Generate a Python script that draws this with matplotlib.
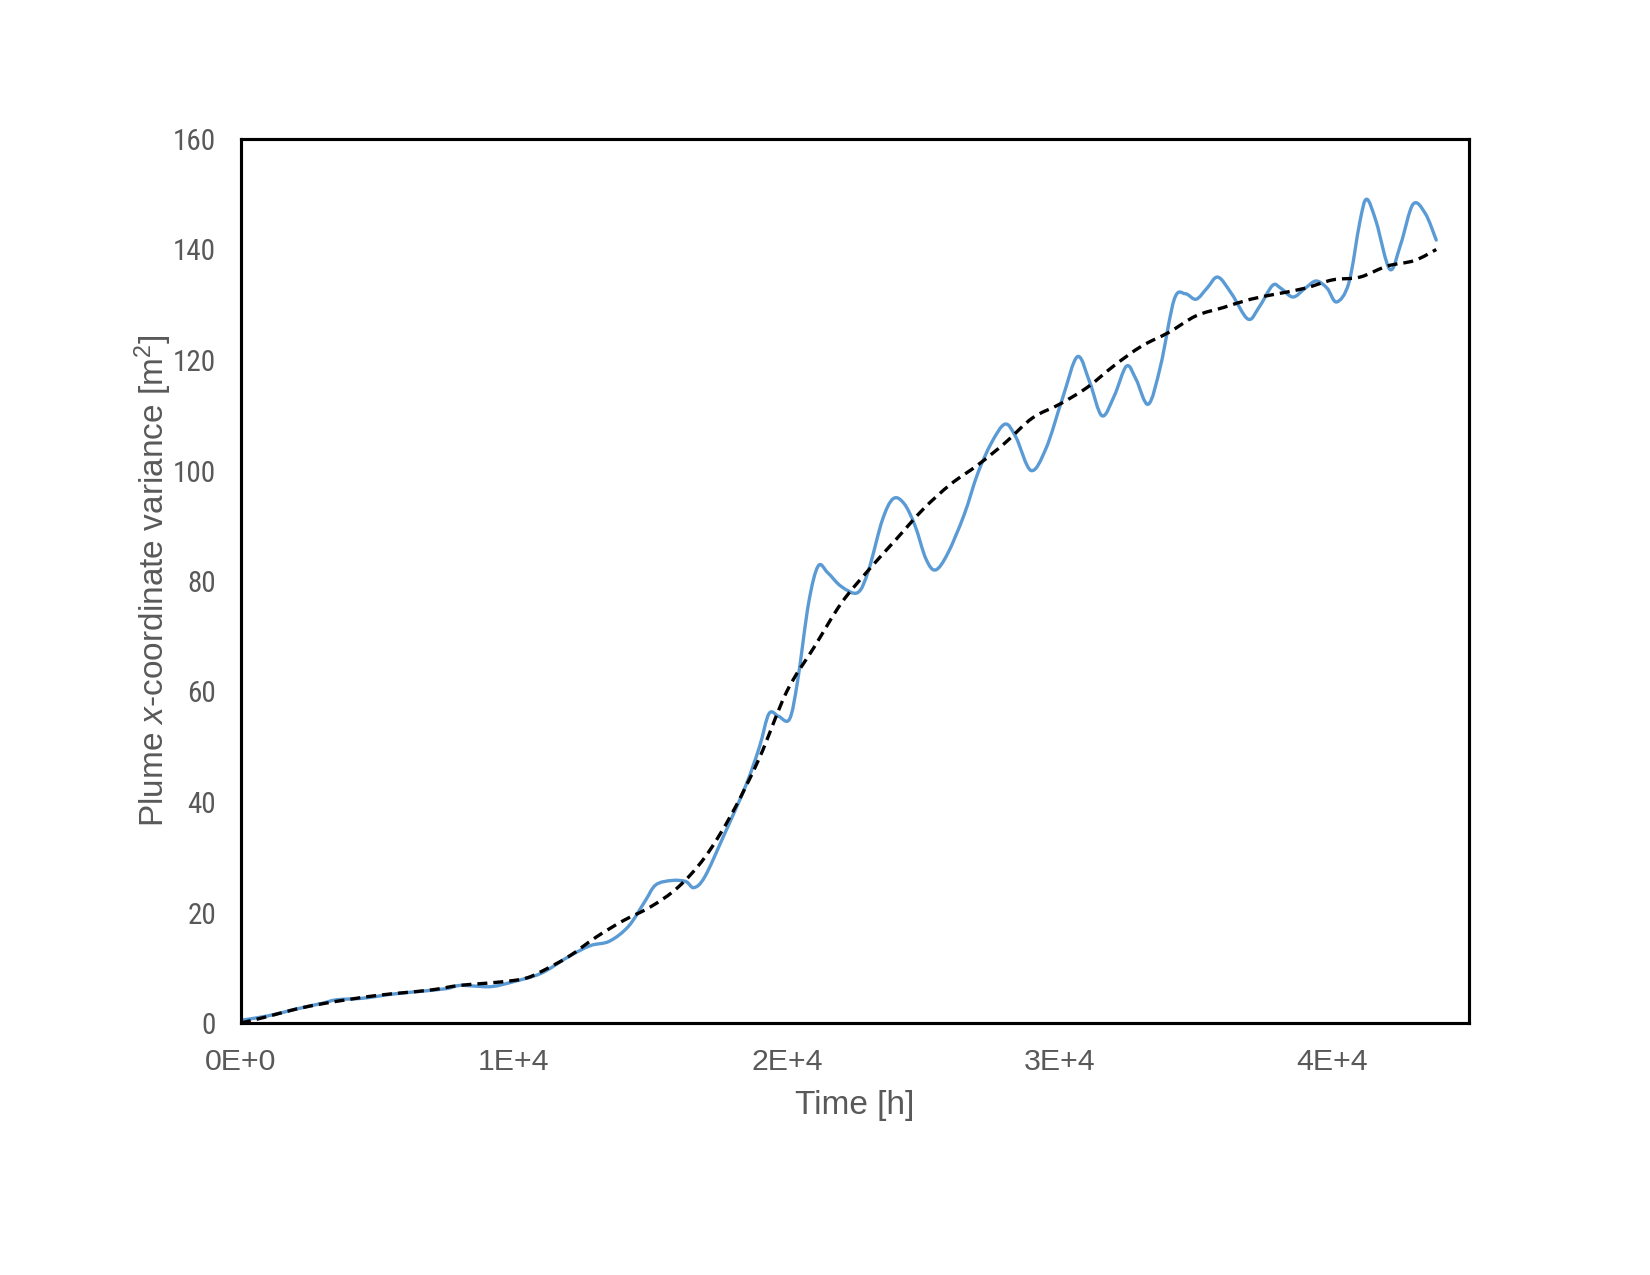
import matplotlib
matplotlib.use("Agg")
import matplotlib.pyplot as plt
from matplotlib import font_manager
from matplotlib.path import Path
from matplotlib.patches import PathPatch

plt.rcParams['font.family'] = ['Liberation Sans', 'DejaVu Sans']
plt.rcParams['mathtext.fontset'] = 'custom'
plt.rcParams['mathtext.rm'] = 'Liberation Sans'
plt.rcParams['mathtext.it'] = 'Liberation Sans:italic'

# Simulated plume variance (blue, smoothed line)
t_sim = [0, 1000, 2000, 3000, 3500, 4500, 5500, 6500, 7500, 8000, 8500, 9200, 10000,
         11000, 12000, 12800, 13500, 14200, 14800, 15200, 15800, 16300, 16600, 17000,
         17700, 18500, 19000, 19350, 19700, 20100, 20400, 20800, 21150, 21500, 22000,
         22600, 23000, 23500, 23900, 24300, 24700, 25100, 25450, 25900, 26500, 27000,
         27500, 28000, 28400, 28950, 29500, 30100, 30650, 31100, 31550, 32000, 32450,
         32800, 33250, 33700, 34200, 34600, 35000, 35400, 35800, 36300, 36900, 37300,
         37800, 38100, 38550, 39000, 39400, 39800, 40150, 40600, 41000, 41250, 41600,
         42100, 42500, 42950, 43400, 43800]
v_sim = [0.5, 1.3, 2.5, 3.6, 4.2, 4.5, 5.2, 5.7, 6.2, 6.8, 6.7, 6.6, 7.5,
         9.0, 12.0, 14.0, 14.8, 17.5, 22.0, 25.0, 25.8, 25.6, 24.5, 26.5,
         34.0, 43.0, 50.0, 56.0, 55.5, 55.0, 62.0, 76.0, 82.7, 81.5, 79.0,
         77.9, 82.0, 91.0, 94.9, 94.0, 90.0, 84.0, 82.0, 85.0, 92.0, 99.5,
         105.0, 108.4, 106.0, 100.0, 104.0, 113.0, 120.6, 116.0, 109.9, 113.5, 118.9,
         116.5, 112.0, 119.0, 131.0, 132.0, 131.0, 133.0, 135.0, 132.0, 127.4, 129.5,
         133.5, 133.0, 131.4, 133.0, 134.3, 133.0, 130.5, 134.0, 145.0, 149.1, 145.0,
         136.4, 141.0, 148.2, 146.5, 141.7]

# Fitted / model curve (black dashed)
t_fit = [0, 1000, 2000, 3000, 4000, 5000, 6000, 7000, 8000, 9000, 10000, 10500, 11000,
         12000, 13000, 14000, 15000, 16000, 17000, 18000, 19000, 20000, 21000, 22000,
         23000, 24000, 25000, 26000, 27000, 28000, 29000, 30000, 31000, 32000, 33000,
         34000, 35000, 36000, 37000, 38000, 39000, 40000, 41000, 42000, 43000, 43800]
v_fit = [0.0, 1.2, 2.5, 3.5, 4.3, 5.0, 5.5, 6.0, 6.8, 7.2, 7.7, 8.2, 9.3,
         12.0, 15.5, 18.5, 21.0, 24.5, 30.0, 38.0, 48.0, 60.0, 68.0, 76.0,
         82.0, 87.5, 93.0, 97.5, 101.0, 105.0, 109.5, 112.0, 115.0, 119.0, 122.5,
         125.0, 128.0, 129.5, 131.0, 132.0, 133.0, 134.5, 135.0, 137.0, 138.0, 140.0]

x_ticks = [0, 10000, 20000, 30000, 40000]
x_tick_labels = ['0E+0', '1E+4', '2E+4', '3E+4', '4E+4']
y_ticks = [0, 20, 40, 60, 80, 100, 120, 140, 160]


def smooth_path(xs, ys):
    """Spreadsheet-style smoothed line: cubic Bezier segments through the points."""
    n = len(xs)
    verts = [(xs[0], ys[0])]
    codes = [Path.MOVETO]
    for i in range(n - 1):
        x0, y0 = xs[max(i - 1, 0)], ys[max(i - 1, 0)]
        x1, y1 = xs[i], ys[i]
        x2, y2 = xs[i + 1], ys[i + 1]
        x3, y3 = xs[min(i + 2, n - 1)], ys[min(i + 2, n - 1)]
        c1 = (x1 + (x2 - x0) / 6.0, y1 + (y2 - y0) / 6.0)
        c2 = (x2 - (x3 - x1) / 6.0, y2 - (y3 - y1) / 6.0)
        verts += [c1, c2, (x2, y2)]
        codes += [Path.CURVE4] * 3
    return Path(verts, codes)


# pick a narrow sans font for the value axis if one is installed
names = {f.name for f in font_manager.fontManager.ttflist}
narrow = None
for cand in ['Liberation Sans Narrow', 'Roboto Condensed', 'Open Sans Condensed',
             'Arial Narrow', 'Nimbus Sans Narrow', 'DejaVu Sans Condensed']:
    if cand in names:
        narrow = cand
        break

fig = plt.figure(figsize=(11, 8.5), dpi=150)
ax = fig.add_axes([241/1650, 1 - 1023/1275, (1469-241)/1650, (1023-139)/1275])

ax.add_patch(PathPatch(smooth_path(t_sim, v_sim), facecolor='none',
                       edgecolor='#5B9BD5', lw=1.6, capstyle='round', joinstyle='round'))
ax.add_patch(PathPatch(smooth_path(t_fit, v_fit), facecolor='none',
                       edgecolor='black', lw=1.6, linestyle=(0, (3, 1.8))))

ax.set_xlim(0, 45000)
ax.set_ylim(0, 160)
ax.set_xticks(x_ticks)
ax.set_xticklabels(x_tick_labels)
ax.set_yticks(y_ticks)
ax.tick_params(length=0, colors='#595959')
ax.tick_params(axis='x', pad=12, labelsize=14.5)
ax.tick_params(axis='y', pad=12, labelsize=14)
if narrow:
    for lab in ax.get_yticklabels():
        lab.set_family([narrow, 'Liberation Sans', 'DejaVu Sans'])
        if narrow == 'DejaVu Sans Condensed':
            lab.set_stretch('condensed')
for s in ax.spines.values():
    s.set_linewidth(1.5)
    s.set_color('black')

ax.set_xlabel('Time [h]', fontsize=16, color='#595959', labelpad=6.5)
ax.set_ylabel('Plume $x$-coordinate variance [m$^2$]', fontsize=16, color='#595959')
ax.yaxis.set_label_coords((174 - 241) / 1228, 0.5)

fig.savefig('out.png', dpi=150)
